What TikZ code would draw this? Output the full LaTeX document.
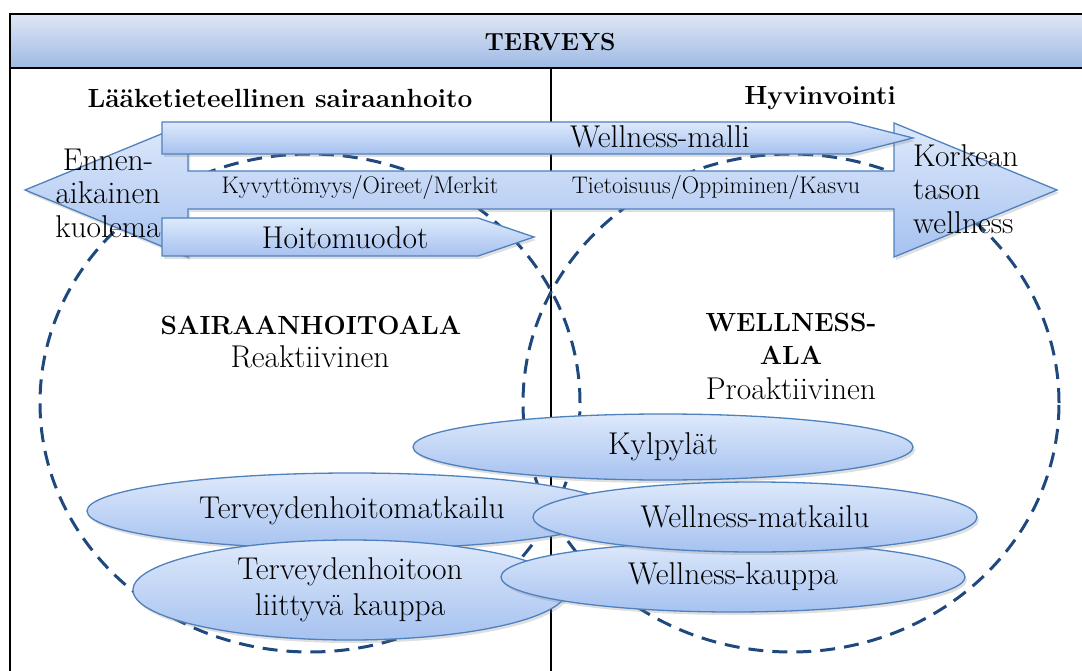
\documentclass[tikz,border=0pt]{standalone}
\usetikzlibrary{shapes.geometric,shadows}
\definecolor{fillTop}{RGB}{222,233,251}
\definecolor{fillBot}{RGB}{166,194,240}
\definecolor{edgeBlue}{RGB}{79,129,189}
\definecolor{hdTop}{RGB}{223,231,244}
\definecolor{hdBot}{RGB}{158,185,228}
\definecolor{circBlue}{RGB}{31,73,125}
\tikzset{
  blueshape/.style={draw=edgeBlue, line width=1.3pt, top color=fillTop, bottom color=fillBot,
    drop shadow={opacity=0.25, shadow xshift=2pt, shadow yshift=-3pt}},
  ell/.style={blueshape, ellipse, inner sep=0pt, align=center, font=\fontsize{31.5}{36}\selectfont},
  areacircle/.style={draw=circBlue, line width=3pt, dash pattern=on 15pt off 9pt},
  big/.style={font=\fontsize{31.5}{33.5}\selectfont, align=center, inner sep=0pt},
  small/.style={font=\fontsize{24}{28}\selectfont, inner sep=0pt},
  head/.style={font=\bfseries\fontsize{26.3}{30}\selectfont, inner sep=0pt},
  frameline/.style={draw=black, line width=2pt}
}
\begin{document}
\begin{tikzpicture}[x=1pt,y=-1pt]
\useasboundingbox (0,0) rectangle (1082,671);
% header band
\path[top color=hdTop, bottom color=hdBot] (10,14) rectangle (1095,68);
\draw[frameline] (10,690) -- (10,14) -- (1095,14);
\draw[frameline, line width=2.6pt] (10,68) -- (1095,68);
\draw[frameline] (551,68) -- (551,690);
\node[head, font=\bfseries\fontsize{24.7}{28}\selectfont] (terveys) at (550,42) {TERVEYS};
\node[head] (laake) at (280,98) {Lääketieteellinen sairaanhoito};
\node[head] (hyvin) at (820,98) {Hyvinvointi};
% dashed domains
\draw[areacircle] (310,403) ellipse [x radius=270pt, y radius=249pt];
\draw[areacircle] (791,403) ellipse [x radius=268pt, y radius=249pt];
% big double arrow
\path[blueshape] (25,190) -- (188,123) -- (188,171) -- (894,171) -- (894,123) -- (1057,190)
  -- (894,257) -- (894,209) -- (188,209) -- (188,257) -- cycle;
% Wellness-malli arrow
\path[blueshape] (162,122) -- (850,122) -- (913,138) -- (850,154) -- (162,154) -- cycle;
% Hoitomuodot arrow
\path[blueshape] (162,218) -- (478,218) -- (534,237) -- (478,256) -- (162,256) -- cycle;
\node[big] (wmalli) at (660,137) {Wellness-malli};
\node[big] (hoito) at (345,238) {Hoitomuodot};
\node[small] (kyv) at (360,188) {Kyvyttömyys/Oireet/Merkit};
\node[small] (tiet) at (716,188) {Tietoisuus/Oppiminen/Kasvu};
\node[big] (ennen) at (108,193) {Ennen-\\aikainen\\kuolema};
\node[big, anchor=west, align=left] (korkea) at (913,189) {Korkean\\tason\\wellness};
% domain labels
\node[head] (sairt) at (311,325) {SAIRAANHOITOALA};
\node[big] (sairs) at (310,357) {Reaktiivinen};
\node[head] (wellt1) at (791,322) {WELLNESS-};
\node[head] (wellt2) at (791,355) {ALA};
\node[big] (wells) at (791,389) {Proaktiivinen};
% ellipses
\node[ell, minimum width=500pt, minimum height=66pt] (kyl) at (663,447) {Kylpylät};
\node[ell, minimum width=530pt, minimum height=76pt] (tmat) at (352,511) {Terveydenhoitomatkailu};
\node[ell, minimum width=434pt, minimum height=100pt] (tkau) at (350,590) {Terveydenhoitoon\\liittyvä kauppa};
\node[ell, minimum width=464pt, minimum height=70pt] (wkau) at (733,577) {Wellness-kauppa};
\node[ell, minimum width=444pt, minimum height=70pt] (wmat) at (755,517) {Wellness-matkailu};
\end{tikzpicture}
\end{document}
